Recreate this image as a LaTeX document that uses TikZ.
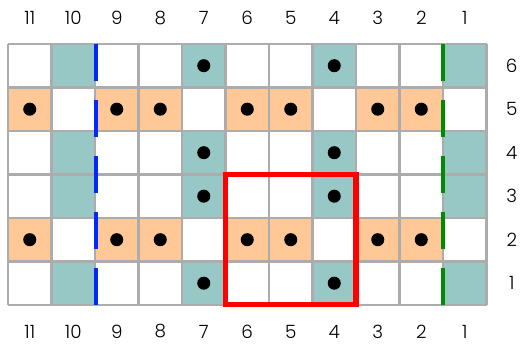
\documentclass[tikz,border=0pt]{standalone}
\usepackage{fontspec}
\setmainfont{Poppins Light}
\usepackage{tikz}
\definecolor{tealcell}{RGB}{152,200,198}
\definecolor{peachcell}{RGB}{255,200,150}
\definecolor{gridgrey}{RGB}{172,172,172}
\definecolor{leftblue}{RGB}{0,40,255}
\definecolor{rightgreen}{RGB}{0,140,0}

\begin{document}
\begin{tikzpicture}[
    gridline/.style={gridgrey,line width=1.4pt},
    stitch/.style={black},
    numlabel/.style={font=\fontsize{12}{14}\selectfont,inner sep=0pt},
    marker/.style={line width=2.8pt,dash pattern=on 0.857cm off 0.4286cm},
    repeatbox/.style={red,line width=3.3pt}]
    \useasboundingbox (-0.184,-0.89) rectangle (11.77,7.01);

    % background of the cells
    \fill[white] (0,0) rectangle (11,6);
    \foreach \r in {1,3,4,6}
      \foreach \c in {10,7,4,1}
        \fill[tealcell] (11-\c,\r-1) rectangle (12-\c,\r);
    \foreach \r in {2,5}
      \foreach \c in {11,9,8,6,5,3,2}
        \fill[peachcell] (11-\c,\r-1) rectangle (12-\c,\r);

    \draw[gridline] (0,0) grid (11,6);

    % stitches
    \foreach \r in {1,3,4,6}
      \foreach \c in {7,4}
        \fill[stitch] (11.5-\c,\r-0.5) circle (0.15);
    \foreach \r in {2,5}
      \foreach \c in {11,9,8,6,5,3,2}
        \fill[stitch] (11.5-\c,\r-0.5) circle (0.15);

    % column and row numbers
    \foreach \c in {1,...,11} {
      \node[numlabel] (top\c) at (11.5-\c,6.6) {\c};
      \node[numlabel] (bot\c) at (11.5-\c,-0.61) {\c};
    }
    \foreach \r in {1,...,6}
      \node[numlabel] (row\r) at (11.58,\r-0.5) {\r};

    % edge markers and repeat
    \draw[marker,leftblue] (2.02,6) -- (2.02,0);
    \draw[marker,rightgreen] (10,0) -- (10,6);
    \draw[repeatbox] (5,0) rectangle (8,3);
\end{tikzpicture}
\end{document}
